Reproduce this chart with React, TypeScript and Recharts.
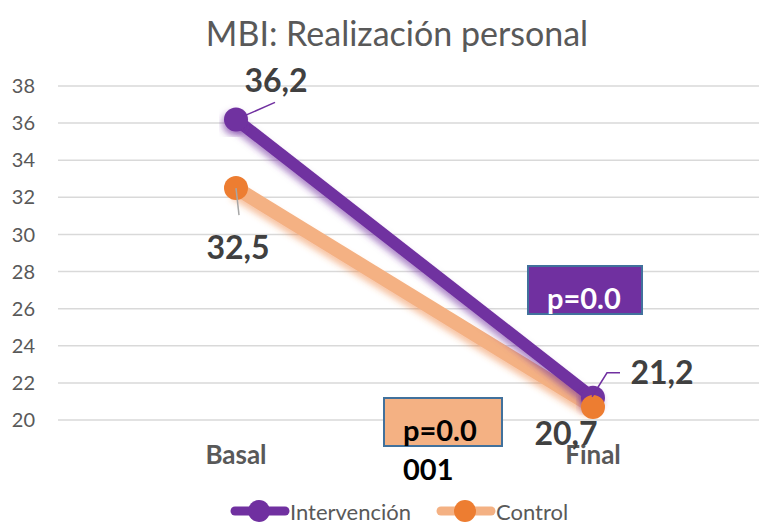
import { LineChart, Line, XAxis, YAxis, CartesianGrid, Legend, LabelList } from 'recharts';

const categories = ['Basal', 'Final'];
const intervencion = [36.2, 21.2];
const control = [32.5, 20.7];
const yTicks = [20, 22, 24, 26, 28, 30, 32, 34, 36, 38];
const pLine1 = 'p=0.0';
const pLine2 = '001';
const title = 'MBI: Realización personal';

const PURPLE = '#7030A0';
const ORANGE = '#ED7D31';
const ORANGE_LIGHT = '#F4B183';
const FONT = 'Lato, "Open Sans", sans-serif';
const LABEL_SIZE = 32;

const data = categories.map((name, i) => ({ name, intervencion: intervencion[i], control: control[i] }));

const fmt = (v: number) => v.toFixed(1).replace('.', ',');

function ValueText({ x, y, value }: { x: number; y: number; value: number }) {
  return (
    <text x={x} y={y} textAnchor="middle" dominantBaseline="central" fontSize={LABEL_SIZE} fontWeight={700} fill="#404040" fontFamily={FONT}>
      {fmt(value)}
    </text>
  );
}

function PurpleLabel(props: any) {
  const { x, y, value, index } = props;
  if (index === 0) {
    return (
      <g>
        <line x1={x + 7} y1={y - 3} x2={x + 39} y2={y - 17} stroke={PURPLE} strokeWidth={1.5} />
        <ValueText x={x + 40} y={y - 40} value={value} />
      </g>
    );
  }
  return (
    <g>
      <polyline points={`${x - 1},${y - 1} ${x + 14},${y - 25} ${x + 27},${y - 25}`} fill="none" stroke={PURPLE} strokeWidth={1.5} />
      <ValueText x={x + 69} y={y - 26} value={value} />
    </g>
  );
}

function ControlLabel(props: any) {
  const { x, y, value, index } = props;
  if (index === 0) {
    return (
      <g>
        <line x1={x} y1={y} x2={x + 3} y2={y + 27} stroke="#A6A6A6" strokeWidth={1.5} />
        <ValueText x={x + 2} y={y + 58} value={value} />
      </g>
    );
  }
  return <ValueText x={x - 27} y={y + 25} value={value} />;
}

function XTick(props: any) {
  const { x, y, payload } = props;
  return (
    <text x={x} y={y} dy="0.71em" textAnchor="middle" fontSize={26} fontWeight={700} fill="#595959" fontFamily={FONT}>
      {payload.value}
    </text>
  );
}

function LegendContent() {
  const item = (label: string, lineColor: string, dotColor: string) => (
    <div style={{ display: 'flex', alignItems: 'center' }}>
      <svg width={60} height={24}>
        <line x1={5} y1={12} x2={55} y2={12} stroke={lineColor} strokeWidth={9} strokeLinecap="round" />
        <circle cx={29} cy={12} r={11} fill={dotColor} />
      </svg>
      <span style={{ fontSize: 22, color: '#595959', fontFamily: FONT }}>{label}</span>
    </div>
  );
  return (
    <div style={{ display: 'flex', gap: 25, paddingLeft: 230, height: 24, alignItems: 'center' }}>
      {item('Intervención', PURPLE, PURPLE)}
      {item('Control', ORANGE_LIGHT, ORANGE)}
    </div>
  );
}

export default function App() {
  return (
    <div style={{ position: 'fixed', left: 0, top: 0, width: 759, height: 523, overflow: 'hidden', background: '#fff', fontFamily: FONT }}>
      <div style={{ position: 'absolute', left: 0, top: 13, width: 794, height: 40, lineHeight: '40px', textAlign: 'center', fontSize: 34, color: '#595959' }}>
        {title}
      </div>
      <LineChart width={780} height={523} data={data} margin={{ top: 86, right: 9, bottom: 0, left: 0 }}>
        <defs>
          <filter id="shadowP" x="-20%" y="-20%" width="140%" height="140%">
            <feDropShadow dx={-2} dy={4} stdDeviation={3} floodColor={PURPLE} floodOpacity={0.55} />
          </filter>
          <filter id="shadowO" x="-20%" y="-20%" width="140%" height="140%">
            <feDropShadow dx={-2} dy={4} stdDeviation={3} floodColor={ORANGE} floodOpacity={0.45} />
          </filter>
        </defs>
        <CartesianGrid horizontal vertical={false} stroke="#D9D9D9" strokeWidth={1.5} />
        <XAxis
          dataKey="name"
          height={79}
          padding={{ left: 178, right: 178 }}
          tickLine={false}
          axisLine={false}
          tickMargin={20}
          tick={<XTick />}
        />
        <YAxis
          domain={[20, 38]}
          ticks={yTicks}
          width={58}
          tickLine={false}
          axisLine={false}
          tickMargin={17}
          tick={{ fontSize: 20, fill: '#595959', fontFamily: FONT }}
        />
        <Legend verticalAlign="bottom" height={24} wrapperStyle={{ left: 0, width: 780 }} content={<LegendContent />} />
        <Line
          dataKey="control"
          name="Control"
          stroke={ORANGE_LIGHT}
          strokeWidth={14}
          filter="url(#shadowO)"
          dot={false}
          activeDot={false}
          isAnimationActive={false}
        />
        <Line
          dataKey="intervencion"
          name="Intervención"
          stroke={PURPLE}
          strokeWidth={12}
          filter="url(#shadowP)"
          dot={{ r: 12, fill: PURPLE, stroke: 'none' }}
          activeDot={false}
          isAnimationActive={false}
        >
          <LabelList dataKey="intervencion" content={<PurpleLabel />} />
        </Line>
        <Line
          dataKey="control"
          legendType="none"
          stroke="none"
          dot={{ r: 12, fill: ORANGE, stroke: 'none' }}
          activeDot={false}
          isAnimationActive={false}
        >
          <LabelList dataKey="control" content={<ControlLabel />} />
        </Line>
      </LineChart>
      <div style={{ position: 'absolute', left: 527, top: 265, width: 116, height: 50, boxSizing: 'border-box', background: PURPLE, border: '2px solid #41719C', paddingLeft: 18, paddingTop: 11, fontSize: 29, fontWeight: 700, lineHeight: '39px', color: '#fff' }}>
        <div>{pLine1}</div>
      </div>
      <div style={{ position: 'absolute', left: 383, top: 397, width: 120, height: 50, boxSizing: 'border-box', background: ORANGE_LIGHT, border: '2px solid #41719C', paddingLeft: 18, paddingTop: 11, fontSize: 29, fontWeight: 700, lineHeight: '39px', color: '#000' }}>
        <div>{pLine1}</div>
        <div>{pLine2}</div>
      </div>
    </div>
  );
}
